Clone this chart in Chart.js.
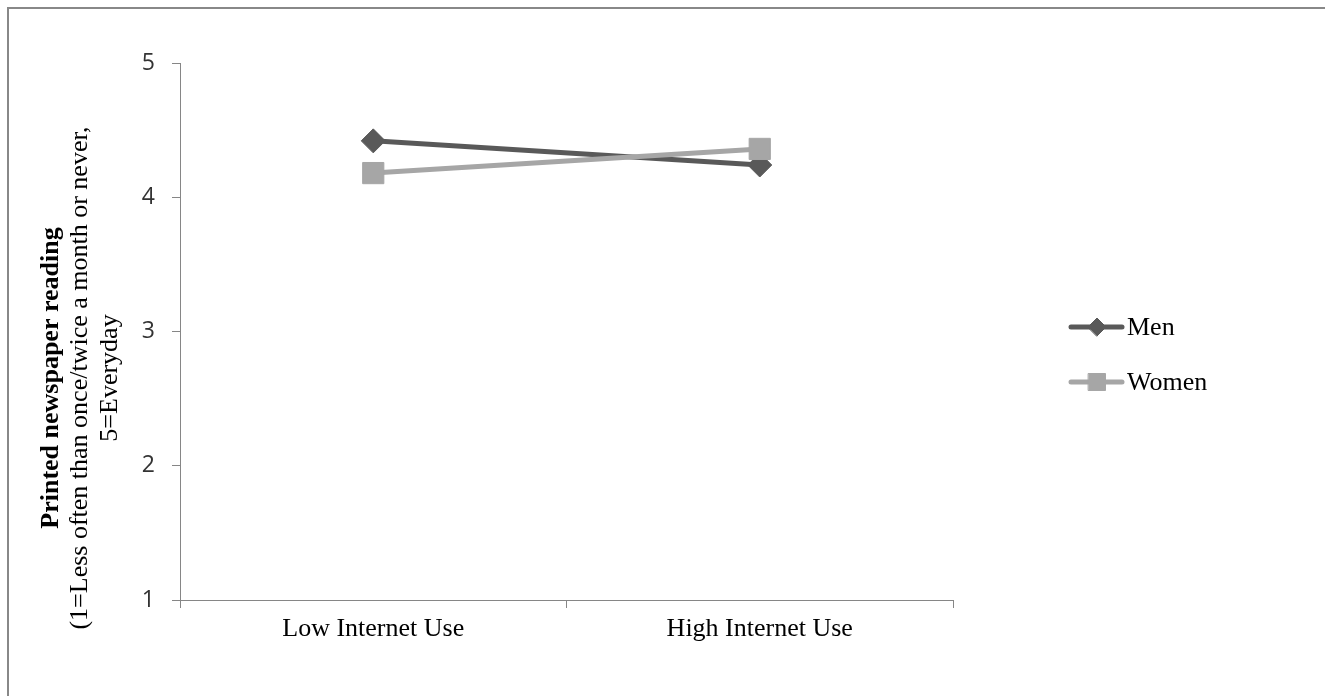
<!DOCTYPE html>
<html>
<head>
<meta charset="utf-8">
<script src="https://cdn.jsdelivr.net/npm/chart.js@4"></script>
<style>
  html, body { margin: 0; padding: 0; background: #fff; overflow: hidden; }
  #frame { position: absolute; left: 7px; top: 7px; width: 2000px; height: 2000px; border: 2px solid #888; }
  #chart { position: absolute; left: 0; top: 0; }
</style>
</head>
<body>
<div id="frame"></div>
<canvas id="chart" width="1325" height="696"></canvas>
<script>
// values
const categories = ['Low Internet Use', 'High Internet Use'];
const menValues = [4.42, 4.24];
const womenValues = [4.18, 4.36];
const yTicks = [1, 2, 3, 4, 5];
const yTitleLines = [
    'Printed newspaper reading',
    '(1=Less often than once/twice a month or never,',
    '5=Everyday'
];

const serif = '"Liberation Serif", "Times New Roman", serif';

// y axis title: three centred lines, first one bold
const yTitlePlugin = {
    id: 'yTitle',
    afterDraw(chart) {
        const ctx = chart.ctx;
        const baselines = [58, 87, 117];
        ctx.save();
        ctx.fillStyle = '#000';
        ctx.textAlign = 'center';
        ctx.textBaseline = 'alphabetic';
        yTitleLines.forEach((line, i) => {
            ctx.save();
            ctx.translate(baselines[i], 378);
            ctx.rotate(-Math.PI / 2);
            ctx.font = (i === 0 ? 'bold ' : '') + '26px ' + serif;
            ctx.fillText(line, 0, 0);
            ctx.restore();
        });
        ctx.restore();
    }
};

// legend drawn as line + marker, the way the original shows it
const lineLegendPlugin = {
    id: 'lineLegend',
    afterDraw(chart) {
        const ctx = chart.ctx;
        const rows = [327, 382];
        chart.data.datasets.forEach((ds, i) => {
            const y = rows[i];
            ctx.save();
            ctx.strokeStyle = ds.borderColor;
            ctx.lineWidth = 5;
            ctx.lineCap = 'round';
            ctx.beginPath();
            ctx.moveTo(1071, y);
            ctx.lineTo(1122, y);
            ctx.stroke();
            ctx.fillStyle = ds.pointBackgroundColor;
            ctx.strokeStyle = ds.pointBorderColor;
            ctx.lineWidth = 1;
            Chart.helpers.drawPoint(ctx, {
                pointStyle: ds.pointStyle,
                radius: ds.legendRadius,
                rotation: 0,
                borderWidth: 1
            }, 1097, y);
            ctx.fillStyle = '#000';
            ctx.font = '26px ' + serif;
            ctx.textAlign = 'left';
            ctx.textBaseline = 'middle';
            ctx.fillText(ds.label, 1127, y + 1);
            ctx.restore();
        });
    }
};

const ctx = document.getElementById('chart').getContext('2d');
new Chart(ctx, {
    type: 'line',
    data: {
        labels: categories,
        datasets: [
            {
                label: 'Men',
                data: menValues,
                borderColor: '#595959',
                borderWidth: 5,
                pointStyle: 'rectRot',
                pointRadius: 12,
                pointBackgroundColor: '#595959',
                pointBorderColor: '#595959',
                pointBorderWidth: 1,
                legendRadius: 9,
                order: 1
            },
            {
                label: 'Women',
                data: womenValues,
                borderColor: '#A6A6A6',
                borderWidth: 5,
                pointStyle: 'rect',
                pointRadius: 15,
                pointBackgroundColor: '#A6A6A6',
                pointBorderColor: '#A6A6A6',
                pointBorderWidth: 1,
                legendRadius: 12,
                order: 0
            }
        ]
    },
    options: {
        responsive: false,
        animation: false,
        devicePixelRatio: 1,
        layout: { padding: { left: 0, top: 63, right: 372, bottom: 0 } },
        plugins: {
            legend: { display: false },
            tooltip: { enabled: false }
        },
        scales: {
            x: {
                type: 'category',
                offset: true,
                afterFit: (scale) => { scale.height = 96; },
                grid: { offset: true, drawOnChartArea: false, tickLength: 8, color: '#868686' },
                border: { color: '#868686', width: 1 },
                ticks: { color: '#000', padding: 6, font: { family: serif, size: 26 } }
            },
            y: {
                min: 1,
                max: 5,
                afterFit: (scale) => { scale.width = 180; },
                afterBuildTicks: (scale) => { scale.ticks = yTicks.map(v => ({ value: v })); },
                grid: { drawOnChartArea: false, tickLength: 8, color: '#868686' },
                border: { color: '#868686', width: 1 },
                ticks: { color: '#333', padding: 17, font: { family: '"Open Sans", sans-serif', size: 23 } }
            }
        }
    },
    plugins: [yTitlePlugin, lineLegendPlugin]
});
</script>
</body>
</html>
